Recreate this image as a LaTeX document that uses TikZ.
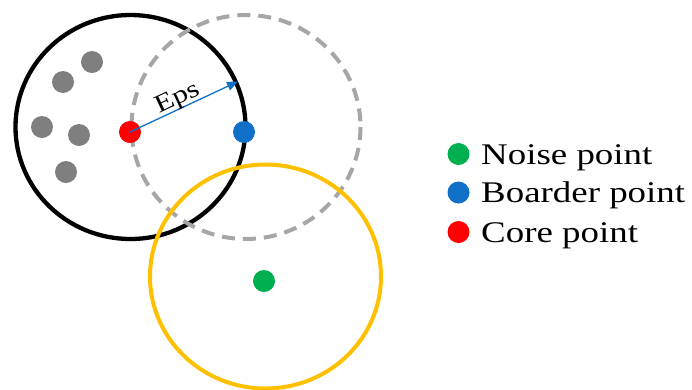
\documentclass[tikz,border=0pt]{standalone}
\usepackage{fontspec}
\setmainfont{Liberation Serif}[FakeStretch=1.23]
\usetikzlibrary{arrows.meta}
\definecolor{ngreen}{HTML}{00B050}
\definecolor{bblue}{HTML}{1070C8}
\definecolor{cred}{HTML}{FF0000}
\definecolor{ygold}{HTML}{FFC000}
\definecolor{dgray}{HTML}{7F7F7F}
\definecolor{lgray}{HTML}{A6A6A6}
\tikzset{
  dot/.style={circle, fill=#1, inner sep=0pt, minimum size=22pt},
  legtext/.style={anchor=base west, inner sep=0pt, font=\fontsize{30}{36}\selectfont},
}
\begin{document}
\begin{tikzpicture}[x=1pt, y=-1pt]
\useasboundingbox (0,0) rectangle (692,389);
% circles
\draw[line width=4.3pt, black] (130.5,127) ellipse [x radius=115, y radius=112];
\draw[line width=4pt, lgray, dash pattern=on 13pt off 8pt] (246,127) ellipse [x radius=114.5, y radius=112];
\draw[line width=4pt, ygold] (265.5,276.5) ellipse [x radius=115.5, y radius=112];
% gray points
\node[dot=dgray] (g1) at (92,62) {};
\node[dot=dgray] (g2) at (63,82) {};
\node[dot=dgray] (g3) at (42,127) {};
\node[dot=dgray] (g4) at (79,135) {};
\node[dot=dgray] (g5) at (66,172) {};
% core, border, noise points
\node[dot=cred] (core) at (130,132) {};
\node[dot=bblue] (border) at (244,132) {};
\node[dot=ngreen] (noise) at (264,281) {};
% Eps arrow
\coordinate (epsend) at (238,81.5);
\draw[bblue, line width=1.3pt, -{Triangle[length=11pt, width=9pt]}] (core.center) -- (epsend)
  node[pos=0.48, sloped, above, inner sep=0pt, yshift=-2pt, black, font=\fontsize{25}{28}\selectfont] {Eps};
% legend
\node[dot=ngreen] (lg) at (458.5,154) {};
\node[dot=bblue] (lb) at (458.5,192.5) {};
\node[dot=cred] (lr) at (458.5,232) {};
\node[legtext] (tn) at (481,164) {Noise point};
\node[legtext] (tb) at (481,202.5) {Boarder point};
\node[legtext] (tc) at (481,242) {Core point};
\end{tikzpicture}
\end{document}
